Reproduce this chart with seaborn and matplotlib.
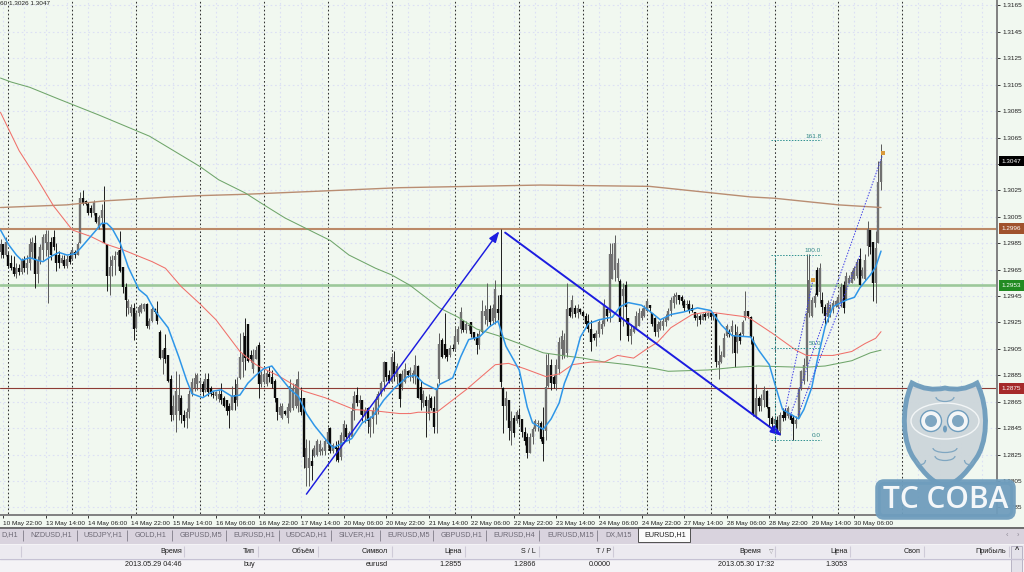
import numpy as np
import pandas as pd
import matplotlib
matplotlib.use("Agg")
import matplotlib.pyplot as plt
import seaborn as sns
from matplotlib.patches import Circle, Ellipse, FancyBboxPatch, PathPatch, Rectangle, Arc
from matplotlib.path import Path

# hourly EURUSD bars, values are pips on top of 1.0000 (2978 = 1.2978)
opens = [
    2978,2984,2976,2976,2970,2967,2962,2966,2963,2972, 2966,2970,2978,2985,2962,2972,2980,2985,2980,2986,
    2990,2976,2976,2970,2972,2968,2975,2973,2978,2976, 2985,3019,3017,3015,3012,3008,3008,2997,3004,3000,
    2984,2960,2968,2972,2976,2980,2967,2952,2936,2932, 2936,2921,2932,2933,2935,2939,2922,2926,2935,2933,
    2918,2898,2906,2900,2882,2855,2855,2858,2868,2855, 2853,2857,2871,2875,2878,2879,2878,2874,2882,2875,
    2871,2869,2867,2871,2868,2866,2862,2859,2870,2866, 2883,2895,2915,2924,2900,2890,2897,2908,2878,2880,
    2878,2886,2884,2881,2868,2855,2853,2858,2853,2858, 2860,2862,2862,2868,2868,2815,2815,2820,2824,2825,
    2827,2828,2828,2833,2845,2828,2831,2830,2823,2835, 2845,2838,2838,2858,2870,2864,2866,2855,2860,2846,
    2852,2855,2866,2871,2880,2895,2885,2880,2895,2884, 2886,2876,2880,2888,2887,2883,2885,2892,2876,2864,
    2866,2856,2868,2860,2858,2882,2912,2909,2905,2900, 2906,2905,2910,2920,2926,2919,2922,2925,2918,2914,
    2908,2918,2930,2927,2935,2926,2928,2935,2946,2875, 2862,2866,2843,2853,2850,2855,2852,2842,2838,2826,
    2838,2844,2848,2849,2838,2843,2877,2893,2884,2878, 2890,2905,2900,2902,2936,2933,2936,2932,2935,2933,
    2930,2926,2920,2916,2913,2916,2920,2924,2935,2932, 2958,2965,2959,2956,2945,2953,2928,2915,2918,2921,
    2922,2928,2930,2934,2938,2932,2928,2918,2920,2922, 2925,2927,2934,2940,2944,2946,2944,2941,2938,2939,
    2936,2933,2928,2930,2927,2931,2930,2932,2930,2931, 2893,2895,2899,2915,2918,2918,2915,2910,2916,2916,
    2928,2934,2929,2912,2854,2868,2862,2866,2873,2861, 2853,2848,2851,2843,2855,2859,2854,2856,2853,2848,
    2853,2875,2881,2892,2932,2930,2940,2965,2948,2942, 2937,2929,2932,2935,2938,2937,2940,2953,2942,2955,
    2955,2958,2960,2973,2960,2958,2983,2995,2986,2955, 2985,3031,
]
highs = [
    2988,2984,2990,2978,2976,2975,2970,2969,2974,2975, 2976,2989,2990,2991,2975,2984,2992,2995,2995,2990,
    2995,2985,2979,2976,2976,2976,2978,2982,2980,2986, 3024,3025,3018,3016,3014,3018,3008,3006,3015,3028,
    2984,2975,2976,2979,2980,2994,2967,2955,2943,2939, 2940,2934,2938,2940,2940,2940,2928,2937,2936,2941,
    2919,2905,2916,2900,2885,2870,2888,2886,2870,2859, 2860,2874,2883,2887,2887,2883,2881,2887,2887,2877,
    2873,2873,2874,2879,2869,2866,2864,2877,2882,2884, 2917,2918,2928,2924,2904,2905,2907,2910,2888,2890,
    2889,2892,2889,2882,2868,2864,2864,2859,2864,2882, 2879,2882,2888,2876,2868,2837,2836,2829,2832,2837,
    2836,2831,2837,2846,2846,2834,2835,2836,2842,2851, 2848,2843,2864,2873,2876,2870,2866,2861,2861,2854,
    2861,2869,2873,2881,2896,2895,2889,2902,2903,2894, 2887,2889,2894,2889,2891,2889,2900,2893,2881,2874,
    2869,2871,2869,2869,2879,2917,2913,2932,2905,2908, 2909,2922,2922,2937,2927,2926,2924,2925,2918,2917,
    2919,2942,2938,2955,2938,2939,2957,2946,2996,2876, 2873,2866,2858,2855,2859,2860,2852,2846,2841,2841,
    2846,2852,2851,2850,2861,2901,2902,2897,2885,2897, 2914,2919,2917,2955,2937,2946,2938,2939,2936,2933,
    2932,2931,2927,2917,2919,2927,2927,2943,2937,2985, 2985,2991,2974,2958,2955,2956,2928,2924,2922,2934,
    2936,2936,2938,2943,2938,2932,2929,2926,2927,2928, 2931,2936,2944,2947,2948,2946,2946,2943,2942,2942,
    2939,2933,2932,2931,2932,2933,2933,2932,2933,2932, 2908,2903,2917,2924,2920,2927,2924,2922,2918,2927,
    2949,2934,2930,2915,2878,2869,2871,2877,2874,2861, 2854,2854,2854,2857,2860,2860,2862,2856,2855,2854,
    2876,2889,2898,2977,2977,2944,2947,2967,2970,2948, 2939,2942,2939,2942,2942,2946,2955,2956,2963,2961,
    2965,2968,2973,2981,2967,2977,3002,2995,2986,2994, 3047,3060,
]
lows = [
    2974,2974,2975,2966,2965,2960,2959,2961,2962,2963, 2962,2965,2974,2951,2955,2969,2972,2975,2940,2972,
    2980,2964,2966,2970,2966,2966,2969,2972,2974,2976, 2985,3014,3014,3006,3005,3006,3000,2996,2997,2985,
    2949,2946,2960,2961,2968,2963,2947,2930,2931,2930, 2912,2920,2930,2932,2934,2921,2920,2925,2932,2924,
    2897,2886,2894,2880,2850,2851,2842,2851,2849,2846, 2845,2853,2869,2873,2874,2872,2869,2872,2869,2869,
    2868,2866,2865,2863,2861,2855,2845,2859,2859,2862, 2882,2884,2889,2895,2895,2887,2897,2868,2876,2878,
    2877,2880,2875,2865,2851,2855,2852,2855,2849,2857, 2859,2860,2857,2855,2815,2801,2801,2806,2823,2824,
    2825,2825,2825,2830,2826,2826,2820,2819,2821,2834, 2835,2834,2838,2851,2862,2856,2850,2849,2841,2838,
    2841,2848,2856,2869,2873,2881,2879,2879,2881,2878, 2861,2874,2879,2884,2881,2879,2878,2868,2859,2861,
    2838,2851,2859,2841,2841,2879,2898,2898,2896,2899, 2903,2904,2909,2917,2918,2917,2919,2914,2912,2901,
    2905,2917,2924,2922,2922,2924,2924,2927,2876,2841, 2851,2836,2832,2838,2849,2847,2838,2832,2822,2826,
    2833,2843,2843,2835,2820,2836,2876,2874,2875,2874, 2886,2897,2898,2899,2929,2928,2929,2928,2931,2929,
    2922,2918,2903,2912,2907,2914,2916,2922,2926,2925, 2958,2956,2956,2912,2922,2924,2911,2909,2917,2921,
    2922,2927,2929,2933,2933,2922,2915,2914,2919,2919, 2922,2927,2930,2936,2939,2939,2938,2934,2936,2932,
    2933,2927,2922,2924,2927,2927,2928,2927,2927,2891, 2882,2894,2899,2914,2914,2902,2891,2902,2909,2915,
    2927,2928,2909,2854,2853,2858,2858,2861,2860,2846, 2844,2846,2841,2840,2850,2851,2853,2849,2836,2845,
    2853,2874,2878,2881,2929,2929,2937,2945,2940,2932, 2924,2925,2929,2932,2937,2936,2937,2932,2942,2955,
    2955,2957,2959,2953,2959,2957,2975,2977,2941,2940, 2985,3025,
]
closes = [
    2984,2976,2986,2968,2966,2962,2966,2963,2972,2966, 2970,2984,2986,2962,2972,2982,2990,2992,2986,2976,
    2982,2970,2970,2974,2968,2973,2971,2980,2976,2984, 3019,3015,3015,3008,3008,3016,3001,3005,3010,2985,
    2960,2967,2972,2975,2978,2964,2952,2942,2941,2937, 2920,2932,2937,2938,2939,2922,2926,2935,2933,2926,
    2898,2904,2897,2881,2855,2862,2873,2870,2855,2850, 2857,2871,2880,2883,2885,2881,2872,2882,2872,2871,
    2870,2872,2871,2866,2862,2858,2858,2869,2864,2878, 2899,2901,2898,2896,2897,2900,2904,2878,2885,2886,
    2887,2884,2878,2868,2857,2861,2862,2856,2861,2877, 2875,2878,2882,2857,2823,2830,2822,2816,2830,2835,
    2833,2829,2835,2842,2828,2832,2829,2821,2840,2848, 2838,2841,2858,2869,2864,2866,2855,2859,2850,2852,
    2858,2866,2871,2879,2895,2884,2881,2899,2886,2892, 2867,2886,2890,2885,2889,2887,2893,2868,2866,2871,
    2862,2866,2860,2846,2875,2909,2899,2900,2899,2906, 2905,2915,2920,2933,2919,2924,2923,2916,2913,2908,
    2916,2934,2934,2935,2925,2936,2950,2932,2880,2862, 2868,2845,2850,2841,2857,2852,2842,2835,2826,2838,
    2844,2850,2849,2837,2833,2876,2893,2879,2878,2893, 2910,2915,2912,2935,2930,2942,2931,2936,2933,2930,
    2924,2920,2910,2913,2917,2925,2924,2938,2930,2977, 2977,2985,2970,2925,2950,2937,2915,2920,2921,2930,
    2932,2934,2936,2941,2936,2924,2918,2924,2925,2926, 2928,2934,2942,2945,2946,2942,2941,2936,2939,2934,
    2934,2928,2930,2927,2931,2929,2932,2929,2931,2895, 2896,2900,2913,2922,2916,2922,2902,2918,2911,2925,
    2934,2930,2914,2855,2868,2862,2868,2874,2861,2853, 2848,2852,2843,2855,2853,2853,2860,2851,2848,2851,
    2875,2888,2893,2932,2957,2942,2945,2946,2966,2937, 2930,2940,2937,2940,2941,2944,2952,2936,2960,2959,
    2963,2966,2971,2953,2965,2972,2996,2982,2955,2981, 3031,3047,
]

fast_bars = [0,3,6,8,11,14,16,19,22,25,28,30,33,36,38,40,42,45,48,52,55,58,63,67,70,72,76,80,83,87,90,93,96,99,102,105,109,112,115,118,122,125,129,132,136,140,144,148,153,156,159,164,165,170,173,176,180,184,187,190,195,198,200,204,207,210,212,216,218,221,225,230,233,236,241,245,248,252,257,262,267,271,275,282,285,289,291,294,300,302,305,307,310,313,318,321,323,327,329,331]
fast_ma = [2995,2984,2976,2972,2974,2972,2971,2975,2978,2976,2977,2981,2988,2995,3000,3000,2996,2985,2967,2950,2945,2934,2921,2899,2881,2871,2868,2873,2874,2869,2870,2879,2885,2890,2892,2884,2874,2869,2856,2847,2837,2830,2834,2837,2849,2854,2866,2875,2884,2885,2879,2874,2878,2883,2899,2912,2914,2922,2926,2907,2889,2861,2849,2844,2852,2864,2879,2899,2914,2924,2927,2929,2937,2940,2938,2932,2927,2931,2933,2936,2934,2923,2915,2914,2904,2893,2879,2859,2852,2859,2876,2896,2922,2937,2942,2944,2951,2961,2967,2979]
slow_bars = [0,7,14,20,27,34,40,46,57,62,68,75,81,90,96,105,114,122,133,141,150,154,157,164,175,186,191,197,205,210,215,222,227,232,238,243,247,252,260,266,281,290,299,303,313,320,325,329,331]
slow_ma = [3084,3055,3033,3013,2995,2990,2984,2980,2971,2966,2952,2939,2927,2903,2893,2884,2873,2868,2859,2858,2856,2856,2857,2857,2874,2893,2894,2890,2884,2886,2893,2895,2895,2900,2898,2905,2910,2921,2931,2933,2929,2917,2904,2900,2900,2903,2909,2913,2918]
green_bars = [0,4,11,22,37,56,75,82,92,99,107,116,124,131,141,147,154,165,172,179,187,195,204,211,219,227,236,246,251,266,276,285,302,310,320,327,331]
green_ma = [3110,3107,3103,3094,3082,3066,3043,3033,3023,3014,3004,2995,2987,2976,2966,2961,2953,2936,2929,2920,2915,2909,2902,2900,2898,2895,2893,2890,2888,2889,2891,2892,2891,2892,2896,2902,2904]
brown_bars = [0,25,39,64,75,92,127,150,203,244,263,282,291,315,331]
brown_ma = [3012,3014,3017,3020,3021,3022,3025,3027,3029,3028,3024,3020,3019,3014,3012]

# hand drawn objects
trend_up_bars, trend_up_pips = [115, 187.5], [2795, 2994]
trend_down_bars, trend_down_pips = [189.7, 293.8], [2993, 2839]
fan_lines = [([295, 305.4], [2859, 2957]), ([296.8, 331.8], [2854, 3053]), ([299.8, 323.1], [2855, 2976])]
fan_dot_bars, fan_dot_pips = [305.4, 331.8], [2957, 3053]
fib_names = ["0.0", "50.0", "100.0", "161.8"]
fib_pips = [2836, 2906, 2976, 3063]
fib_start, fib_end = 289.7, 308.5

levels = [1.2996, 1.2953, 1.2875]
level_colors = ["#BC8A68", "#9CC89A", "#8E3B34"]
level_widths = [1.5, 1.9, 0.8]
level_boxes = ["#A0522D", "#228B22", "#A52A2A"]
last_close = 1.3047

date_labels = ["10 May 22:00", "13 May 14:00", "14 May 06:00", "14 May 22:00", "15 May 14:00", "16 May 06:00",
               "16 May 22:00", "17 May 14:00", "20 May 06:00", "20 May 22:00", "21 May 14:00", "22 May 06:00",
               "22 May 22:00", "23 May 14:00", "24 May 06:00", "24 May 22:00", "27 May 14:00", "28 May 06:00",
               "28 May 22:00", "29 May 14:00", "30 May 06:00"]

tab_names = ["D,H1", "NZDUSD,H1", "USDJPY,H1", "GOLD,H1", "GBPUSD,M5", "EURUSD,H1", "USDCAD,H1", "SILVER,H1",
             "EURUSD,M5", "GBPUSD,H1", "EURUSD,H4", "EURUSD,M15", "DX,M15"]
tab_left = [1, 30, 83, 135, 180, 233, 285, 339, 387, 441, 493, 547, 605]
tab_seps = [23, 77, 127, 172, 226, 279, 331, 380, 433, 486, 539, 597]

head_names = ["Время", "Тип", "Объём", "Символ", "Цена", "S / L", "T / P", "Время", "Цена", "Своп", "Прибыль"]
head_right = [182, 255, 315, 388, 462, 536, 611, 761, 848, 921, 1006]
head_seps = [21, 184, 258, 318, 392, 465, 539, 613, 775, 850, 924, 1009]
row_values = ["2013.05.29 04:46", "buy", "eurusd", "1.2855", "1.2866", "0.0000", "2013.05.30 17:32", "1.3053"]
row_right = [182, 255, 388, 462, 536, 611, 774, 848]

sns.set_theme(style="white", rc={"axes.facecolor": "#F1F8F0", "figure.facecolor": "#F1F8F0"})
plt.rcParams["font.family"] = ["Liberation Sans", "DejaVu Sans"]
AXIS_FS = 4.6
PANEL_FS = 5.2
TXT = "#1E1E1E"

bars = pd.DataFrame({"open": opens, "high": highs, "low": lows, "close": closes}, dtype=float)
bars[["open", "high", "low", "close"]] = 1 + bars[["open", "high", "low", "close"]] / 10000
bars["bar"] = np.arange(len(bars))
up = bars[bars["close"] >= bars["open"]]
down = bars[bars["close"] < bars["open"]]

fig = plt.figure(figsize=(10.24, 5.72), dpi=100)
ax = fig.add_axes([0, 1 - 515 / 572, 997 / 1024, 515 / 572])
ax.set_xlim(-0.19, 374.6)
ax.set_ylim(1.27792, 1.31691)

# grid and day separators
price_ticks = np.arange(1.2785, 1.3170, 0.0020)
ax.hlines(price_ticks, -1, 375, color="#DCE0F4", lw=0.8, ls=(0, (1.5, 2.5)), zorder=1)
ax.vlines(np.arange(1, 375, 8), 1.27, 1.32, color="#DCE0F4", lw=0.8, ls=(0, (1.5, 2.5)), zorder=1)
ax.vlines(np.arange(3, 340, 24), 1.27, 1.32, color="#333333", lw=0.75, ls=(0, (1.6, 2.2)), zorder=2)

for lev, col, w in zip(levels, level_colors, level_widths):
    ax.axhline(lev, color=col, lw=w, zorder=2)

# candles
ax.vlines(up["bar"], up["low"], up["high"], color="#5A5A5A", lw=0.7, zorder=3)
ax.vlines(up["bar"], up["open"], up["close"], color="#707070", lw=1.7, zorder=3)
ax.vlines(down["bar"], down["low"], down["high"], color="#1E1E1E", lw=0.7, zorder=3)
ax.vlines(down["bar"], down["open"], down["close"], color="#0A0A0A", lw=1.7, zorder=3)

# moving averages
ma_sets = [(brown_bars, brown_ma, "#B98D72", 1.0), (green_bars, green_ma, "#6FA56A", 0.75),
           (slow_bars, slow_ma, "#F0706A", 0.75), (fast_bars, fast_ma, "#2E96E8", 1.1)]
for xs, ys, col, w in ma_sets:
    sns.lineplot(x=xs, y=1 + np.array(ys) / 10000, color=col, lw=w, ax=ax, sort=False, errorbar=None, zorder=4)

# trend arrows
for xs, ys, w in [(trend_up_bars, trend_up_pips, 1.05), (trend_down_bars, trend_down_pips, 1.4)]:
    ax.annotate("", xy=(xs[1], 1 + ys[1] / 10000), xytext=(xs[0], 1 + ys[0] / 10000),
                arrowprops=dict(arrowstyle="-|>,head_width=0.2,head_length=0.55", color="#1C1CE0", lw=w,
                                shrinkA=0, shrinkB=0), zorder=5)

# fibo levels and fan
for xs, ys in fan_lines:
    ax.plot(xs, 1 + np.array(ys) / 10000, color="#3D3DE6", lw=0.7, ls=(0, (1.5, 1.5)), zorder=5)
ax.scatter(fan_dot_bars, 1 + np.array(fan_dot_pips) / 10000, s=5, marker="s", color="#D99A3C", zorder=6, linewidths=0)
for name, p in zip(fib_names, fib_pips):
    ax.plot([fib_start, fib_end], [1 + p / 10000] * 2, color="#2E9090", lw=0.7, ls=(0, (1.5, 1.5)), zorder=5)
    ax.text(fib_end, 1 + p / 10000 + 0.00012, name, color="#2E8585", fontsize=AXIS_FS, ha="right", va="bottom", zorder=6)
ax.plot([fib_start + 1.5] * 2, [1 + fib_pips[0] / 10000, 1 + fib_pips[2] / 10000], color="#2E9090", lw=0.7,
        ls=(0, (1.5, 1.5)), zorder=5)

# axes furniture
ax.yaxis.tick_right()
ax.set_yticks(price_ticks)
ax.set_yticklabels([f"{v:.4f}" for v in price_ticks], fontsize=AXIS_FS, color=TXT)
ax.set_xticks(np.arange(1, 1 + 16 * len(date_labels), 16))
ax.set_xticklabels(date_labels, fontsize=AXIS_FS, color=TXT, ha="left")
ax.tick_params(axis="both", length=2.5, width=0.7, color="#333333", pad=1.5, bottom=True, right=True)
for side in ["top", "left"]:
    ax.spines[side].set_visible(False)
for side in ["right", "bottom"]:
    ax.spines[side].set_color("#808080")
    ax.spines[side].set_linewidth(1.4)

ytrans = ax.get_yaxis_transform()
for lev, col in zip(levels + [last_close], level_boxes + ["#000000"]):
    ax.text(1.0045, lev, f"{lev:.4f}", transform=ytrans, color="white", fontsize=AXIS_FS, va="center", ha="left",
            clip_on=False, zorder=7, bbox=dict(boxstyle="square,pad=0.42", fc=col, ec="none"))
ax.text(0.0, 0.9985, "60 1.3026 1.3047", transform=ax.transAxes, fontsize=AXIS_FS, color=TXT, va="top", ha="left")

# terminal panels below and logo drawn in pixel space
ui = fig.add_axes([0, 0, 1, 1], facecolor="none")
ui.set_xlim(0, 1024)
ui.set_ylim(572, 0)
ui.axis("off")

ui.add_patch(Rectangle((0, 527), 1024, 17, fc="#D9D3DE", ec="none"))
ui.plot([0, 1024], [527.5, 527.5], color="#5A5A5A", lw=1.2)
ui.add_patch(Rectangle((0, 544), 1024, 28, fc="#F4F3F6", ec="none"))
ui.add_patch(Rectangle((0, 545), 1024, 13, fc="#ECEAF0", ec="none"))
ui.plot([0, 1024], [558.5, 558.5], color="#C6C2D4", lw=1.0)
ui.add_patch(Rectangle((638, 527), 52, 15, fc="#FBFBFB", ec="#505050", lw=0.7))
ui.text(644, 535, "EURUSD,H1", fontsize=PANEL_FS, color=TXT, va="center")
for x, name in zip(tab_left, tab_names):
    ui.text(x, 535, name, fontsize=PANEL_FS, color="#6E6A76", va="center")
ui.vlines(tab_seps, 530, 541, color="#8C8894", lw=0.7)
ui.text(1007, 535, "‹", fontsize=PANEL_FS, color="#8C8894", va="center", ha="center")
ui.text(1018, 535, "›", fontsize=PANEL_FS, color="#8C8894", va="center", ha="center")

ui.vlines(head_seps, 546, 557, color="#CFCBD8", lw=0.8)
for x, name in zip(head_right, head_names):
    ui.text(x, 551.5, name, fontsize=PANEL_FS, color=TXT, va="center", ha="right")
ui.text(773, 551.5, "▽", fontsize=PANEL_FS - 1, color="#888888", va="center", ha="right")
for x, val in zip(row_right, row_values):
    ui.text(x, 565, val, fontsize=PANEL_FS, color=TXT, va="center", ha="right")
ui.add_patch(Rectangle((1011, 546), 11, 26, fc="#E4E2EA", ec="#B8B4C4", lw=0.7))
ui.text(1016.5, 551, "^", fontsize=PANEL_FS, color="#222222", va="center", ha="center", fontweight="bold")

# owl logo
LOGO = "#6F9DBD"
verts = [(912, 383), (928, 392), (945, 388), (962, 392), (977, 383),
         (990, 410), (987, 445), (975, 460), (965, 475), (955, 484), (945, 486),
         (935, 484), (925, 475), (915, 460), (903, 445), (900, 410), (912, 383), (912, 383)]
codes = [Path.MOVETO] + [Path.CURVE3] * 4 + [Path.CURVE4] * 12 + [Path.CLOSEPOLY]
ui.add_patch(PathPatch(Path(verts, codes), fc="#CDD6DB", ec=LOGO, lw=3.5, alpha=0.97, zorder=8))
ui.add_patch(Ellipse((945, 421), 68, 36, fc="none", ec="#F2F5F6", lw=1.0, zorder=9))
for cx in [931, 958]:
    ui.add_patch(Circle((cx, 421), 10.5, fc="#F4F6F7", ec=LOGO, lw=1.0, zorder=9))
    ui.add_patch(Circle((cx, 421), 6, fc="#7FA6C1", ec="none", zorder=10))
ui.add_patch(Ellipse((945, 429), 4, 7, fc=LOGO, ec="none", zorder=10))
for cx, cy, w in [(945, 397, 18), (945, 448, 24), (945, 456, 20), (921, 460, 9), (969, 460, 9)]:
    ui.add_patch(Arc((cx, cy), w, 9, theta1=0, theta2=180, ec="#7FA6C1", lw=0.9, zorder=10))
ui.add_patch(FancyBboxPatch((878, 482), 135, 35, boxstyle="round,pad=0,rounding_size=6",
                            fc=LOGO, ec=LOGO, lw=4, alpha=0.95, zorder=11))
ui.text(945.5, 499.5, "ТС СОВА", fontsize=21.5, color="#F4F7F9", ha="center", va="center", zorder=12,
        family=["Open Sans", "DejaVu Sans"], fontweight="semibold")

fig.savefig("out.png", dpi=100)
